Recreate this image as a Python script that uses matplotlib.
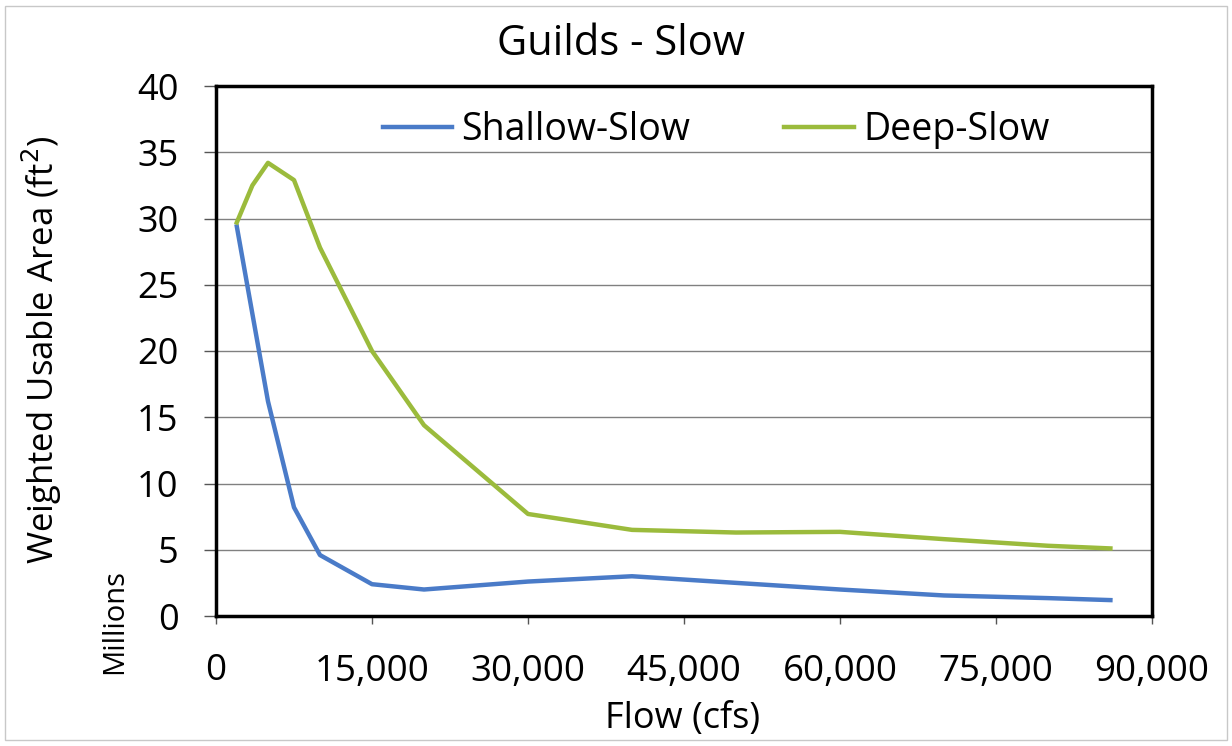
import matplotlib.pyplot as plt
from matplotlib.patches import Rectangle
from matplotlib.ticker import FuncFormatter

# Données (débit en cfs, surface en millions de ft2)
flow_shallow = [2000, 5000, 7500, 10000, 15000, 20000, 30000, 40000, 50000, 60000, 70000, 80000, 86000]
shallow_slow = [29.4, 16.2, 8.2, 4.6, 2.4, 2.0, 2.6, 3.0, 2.5, 2.0, 1.55, 1.35, 1.2]

flow_deep = [2000, 3500, 5000, 7500, 10000, 15000, 20000, 30000, 40000, 50000, 60000, 70000, 80000, 86000]
deep_slow = [29.7, 32.5, 34.2, 32.9, 27.8, 20.0, 14.4, 7.7, 6.5, 6.3, 6.35, 5.8, 5.3, 5.1]

x_ticks = [0, 15000, 30000, 45000, 60000, 75000, 90000]
y_ticks = [0, 5, 10, 15, 20, 25, 30, 35, 40]

plt.rcParams['font.family'] = ['Open Sans', 'DejaVu Sans']

W, H = 1232, 746
fig = plt.figure(figsize=(W / 100, H / 100), dpi=100)
ax = fig.add_axes([216 / W, 1 - 616 / H, (1152 - 216) / W, (616 - 86) / H])

# Courbes
ax.plot(flow_shallow, shallow_slow, color='#4a7bc8', linewidth=3.2, label='Shallow-Slow')
ax.plot(flow_deep, deep_slow, color='#9bbb3c', linewidth=3.2, label='Deep-Slow')

ax.set_xlim(0, 90000)
ax.set_ylim(0, 40)
ax.set_xticks(x_ticks)
ax.set_yticks(y_ticks)
ax.xaxis.set_major_formatter(FuncFormatter(lambda v, p: f'{int(v):,}'))
ax.tick_params(axis='y', labelsize=26, length=9, width=1, color='#555555', pad=18)
ax.tick_params(axis='x', labelsize=26.5, length=6, width=1, color='#555555', pad=21)

ax.grid(axis='y', color='#808080', linewidth=1)
ax.set_axisbelow(True)
for s in ax.spines.values():
    s.set_linewidth(2.5)
    s.set_color('black')

# Titres des axes
fig.text(683 / W, 1 - 719 / H, 'Flow (cfs)', fontsize=26, ha='center', va='center')
fig.text(42 / W, 1 - 350 / H, 'Weighted Usable Area (ft$^2$)', fontsize=25, rotation=90,
         ha='center', va='center')
fig.text(115 / W, 1 - 622 / H, 'Millions', rotation=90, fontsize=21,
         ha='center', va='center')

fig.text(621 / W, 1 - 44 / H, 'Guilds - Slow', fontsize=30, ha='center', va='center')

ax.legend(loc='center', bbox_to_anchor=(716 / W, 1 - 130 / H), bbox_transform=fig.transFigure,
          ncol=2, frameon=False, fontsize=27, handlelength=1.85, handletextpad=0.25,
          columnspacing=2.5)

# Bordure de la zone du graphique
fig.patches.append(Rectangle((0.004, 0.008), 0.992, 0.984, transform=fig.transFigure,
                             fill=False, edgecolor='#c8c8c8', linewidth=1))

fig.savefig('out.png', dpi=100)
